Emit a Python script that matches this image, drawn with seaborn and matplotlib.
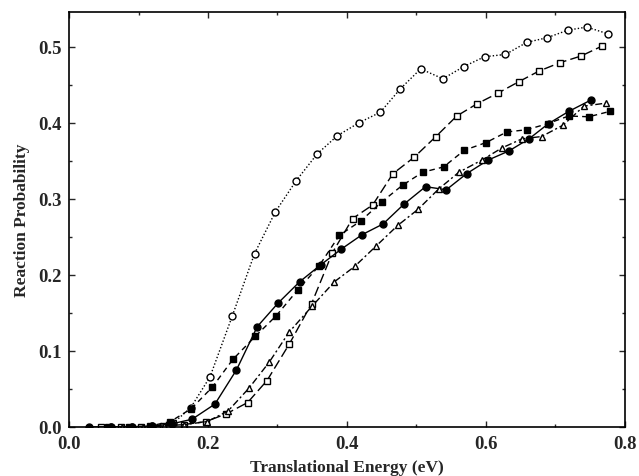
import matplotlib
matplotlib.use("Agg")
import matplotlib.pyplot as plt
import seaborn as sns
from matplotlib.ticker import MultipleLocator

# --- data ---
oc_x = [0.06, 0.09, 0.12, 0.15, 0.175, 0.203, 0.235, 0.267, 0.297, 0.327, 0.357, 0.386, 0.417,
        0.448, 0.477, 0.506, 0.538, 0.568, 0.598, 0.628, 0.659, 0.688, 0.718, 0.745, 0.776]
oc_y = [0.0, 0.0, 0.001, 0.005, 0.025, 0.066, 0.146, 0.228, 0.283, 0.324, 0.359, 0.383, 0.400,
        0.414, 0.445, 0.471, 0.458, 0.474, 0.487, 0.490, 0.506, 0.512, 0.522, 0.526, 0.517]

os_x = [0.046, 0.075, 0.104, 0.135, 0.165, 0.197, 0.226, 0.257, 0.285, 0.317, 0.349, 0.379, 0.408,
        0.437, 0.466, 0.497, 0.528, 0.558, 0.587, 0.617, 0.647, 0.676, 0.706, 0.737, 0.767]
os_y = [0.0, 0.0, 0.0, 0.001, 0.003, 0.007, 0.017, 0.032, 0.061, 0.109, 0.162, 0.229, 0.274,
        0.292, 0.333, 0.355, 0.382, 0.409, 0.425, 0.439, 0.454, 0.468, 0.479, 0.488, 0.501]

fs_x = [0.056, 0.086, 0.116, 0.146, 0.176, 0.206, 0.236, 0.268, 0.298, 0.329, 0.360, 0.389, 0.420,
        0.450, 0.480, 0.509, 0.539, 0.569, 0.600, 0.630, 0.659, 0.689, 0.719, 0.748, 0.778]
fs_y = [0.0, 0.0, 0.001, 0.007, 0.024, 0.052, 0.089, 0.119, 0.146, 0.180, 0.212, 0.252, 0.271,
        0.296, 0.318, 0.335, 0.342, 0.364, 0.374, 0.388, 0.391, 0.399, 0.409, 0.408, 0.415]

fc_x = [0.029, 0.06, 0.09, 0.12, 0.148, 0.177, 0.210, 0.241, 0.271, 0.301, 0.332, 0.362, 0.392,
        0.422, 0.452, 0.482, 0.513, 0.543, 0.572, 0.603, 0.633, 0.662, 0.690, 0.719, 0.751]
fc_y = [0.0, 0.0, 0.0, 0.001, 0.004, 0.010, 0.030, 0.075, 0.132, 0.163, 0.191, 0.213, 0.234,
        0.253, 0.267, 0.293, 0.316, 0.312, 0.333, 0.351, 0.363, 0.379, 0.399, 0.415, 0.430]

tr_x = [0.076, 0.106, 0.136, 0.166, 0.199, 0.229, 0.259, 0.288, 0.317, 0.350, 0.382, 0.411, 0.442,
        0.473, 0.502, 0.532, 0.561, 0.594, 0.623, 0.652, 0.680, 0.711, 0.741, 0.773]
tr_y = [0.0, 0.0, 0.001, 0.003, 0.007, 0.021, 0.051, 0.085, 0.125, 0.159, 0.191, 0.211, 0.238,
        0.265, 0.286, 0.313, 0.335, 0.351, 0.367, 0.379, 0.382, 0.397, 0.422, 0.426]

x_ticks = [0.0, 0.2, 0.4, 0.6, 0.8]
y_ticks = [0.0, 0.1, 0.2, 0.3, 0.4, 0.5]

sns.set_style("ticks")
plt.rcParams['font.family'] = ['Liberation Serif', 'DejaVu Serif']

fig = plt.figure(figsize=(6.39, 4.77), dpi=100)
ax = fig.add_axes([0.108, 0.103, 0.870, 0.870])

common = dict(color='black', lw=1.0, markersize=5, markeredgecolor='black',
              markeredgewidth=1.0, ax=ax, sort=False)

sns.lineplot(x=oc_x, y=oc_y, marker='o', markerfacecolor='white', linestyle=(0, (1, 1.5)), **common)
sns.lineplot(x=os_x, y=os_y, marker='s', markerfacecolor='white', linestyle=(0, (7, 3)), **common)
sns.lineplot(x=fs_x, y=fs_y, marker='s', markerfacecolor='black', linestyle=(0, (4, 3)), **common)
sns.lineplot(x=fc_x, y=fc_y, marker='o', markerfacecolor='black', linestyle='-', **common)
sns.lineplot(x=tr_x, y=tr_y, marker='^', markerfacecolor='white', linestyle=(0, (5, 2, 1.5, 2)), **common)

ax.set_xlim(0, 0.8)
ax.set_ylim(0, 0.546)
ax.set_xticks(x_ticks)
ax.set_yticks(y_ticks)
ax.xaxis.set_minor_locator(MultipleLocator(0.1))
ax.yaxis.set_minor_locator(MultipleLocator(0.05))
ax.tick_params(which='both', direction='in', top=True, right=True, width=1.0)
ax.tick_params(which='major', length=4)
ax.tick_params(which='minor', length=2.5)
ax.tick_params(axis='x', pad=6)
ax.tick_params(axis='y', pad=5)
ax.set_xticklabels([f"{v:.1f}" for v in x_ticks], fontsize=13.5, fontweight='bold')
ax.set_yticklabels([f"{v:.1f}" for v in y_ticks], fontsize=13.5, fontweight='bold')
for s in ax.spines.values():
    s.set_linewidth(1.2)
    s.set_color('black')

ax.set_xlabel("Translational Energy (eV)", fontsize=12.5, fontweight='bold', labelpad=5)
ax.set_ylabel("Reaction Probability", fontsize=12.5, fontweight='bold', labelpad=6)

fig.savefig("out.png", dpi=100)
